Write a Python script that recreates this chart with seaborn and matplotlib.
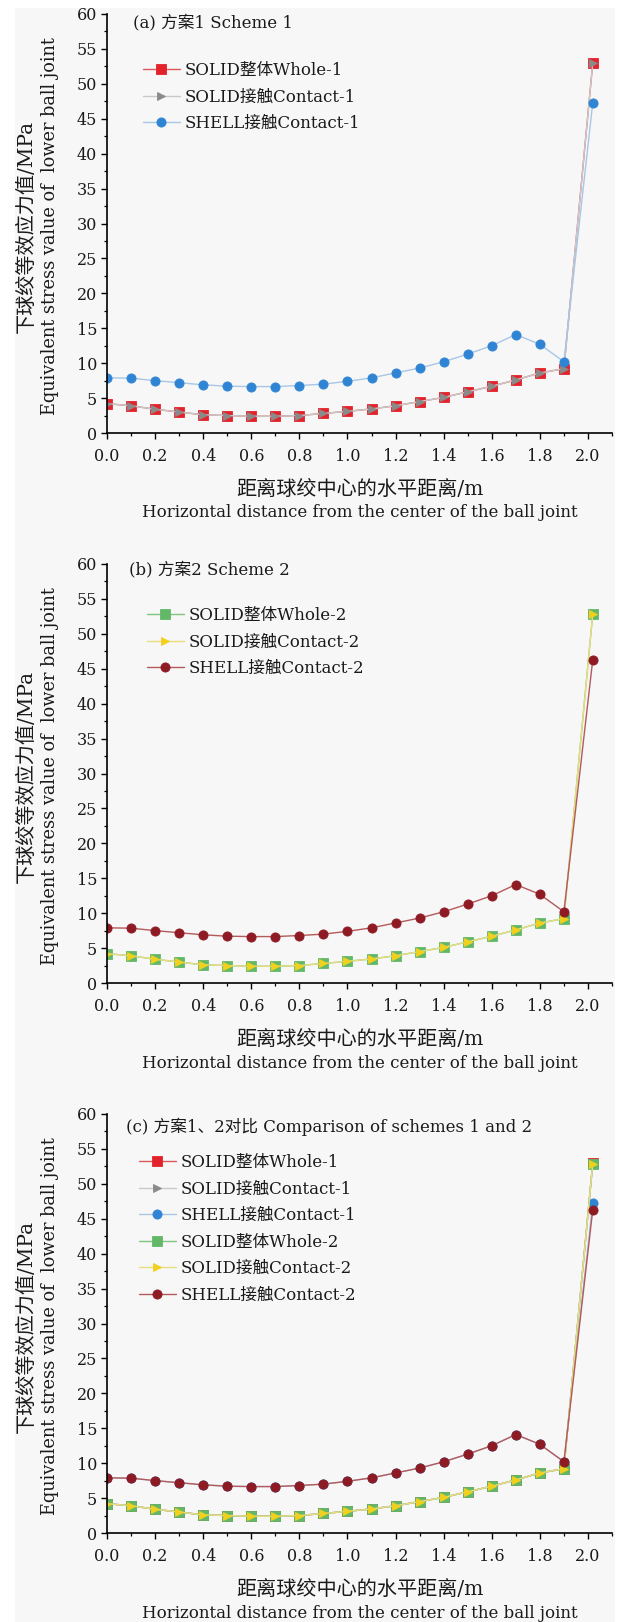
import numpy as np
import pandas as pd
import matplotlib
matplotlib.use("Agg")
import matplotlib.pyplot as plt
from matplotlib.patches import Rectangle
from matplotlib.ticker import MultipleLocator, FormatStrFormatter
import seaborn as sns

# ---------------- data ----------------
distance = [0.0, 0.1, 0.2, 0.3, 0.4, 0.5, 0.6, 0.7, 0.8, 0.9, 1.0,
            1.1, 1.2, 1.3, 1.4, 1.5, 1.6, 1.7, 1.8, 1.9, 2.02]
solid_whole_1 = [4.2, 3.9, 3.4, 3.0, 2.6, 2.5, 2.4, 2.4, 2.5, 2.8, 3.1,
                 3.45, 3.9, 4.5, 5.1, 5.9, 6.7, 7.6, 8.6, 9.2, 53.0]
solid_contact_1 = [4.2, 3.9, 3.4, 3.0, 2.6, 2.5, 2.4, 2.4, 2.5, 2.8, 3.1,
                   3.45, 3.9, 4.5, 5.1, 5.9, 6.7, 7.6, 8.6, 9.2, 53.0]
shell_contact_1 = [7.9, 7.85, 7.5, 7.2, 6.9, 6.7, 6.65, 6.65, 6.8, 7.0, 7.4,
                   7.9, 8.6, 9.3, 10.2, 11.3, 12.5, 14.1, 12.7, 10.2, 47.3]
solid_whole_2 = [4.2, 3.9, 3.4, 3.0, 2.6, 2.5, 2.4, 2.4, 2.5, 2.8, 3.1,
                 3.45, 3.9, 4.5, 5.1, 5.9, 6.7, 7.6, 8.6, 9.2, 52.9]
solid_contact_2 = [4.2, 3.9, 3.4, 3.0, 2.6, 2.5, 2.4, 2.4, 2.5, 2.8, 3.1,
                   3.45, 3.9, 4.5, 5.1, 5.9, 6.7, 7.6, 8.6, 9.2, 52.9]
shell_contact_2 = [7.9, 7.85, 7.5, 7.2, 6.9, 6.7, 6.65, 6.65, 6.8, 7.0, 7.4,
                   7.9, 8.6, 9.3, 10.2, 11.3, 12.5, 14.1, 12.7, 10.2, 46.3]

labels = ["SOLID整体Whole-1", "SOLID接触Contact-1", "SHELL接触Contact-1",
          "SOLID整体Whole-2", "SOLID接触Contact-2", "SHELL接触Contact-2"]
panel_titles = ["(a) 方案1 Scheme 1", "(b) 方案2 Scheme 2",
                "(c) 方案1、2对比 Comparison of schemes 1 and 2"]
xlabel_zh = "距离球绞中心的水平距离/m"
xlabel_en = "Horizontal distance from the center of the ball joint"
ylabel_zh = "下球绞等效应力值/MPa"
ylabel_en = "Equivalent stress value of  lower ball joint"

series = {
    labels[0]: solid_whole_1, labels[1]: solid_contact_1, labels[2]: shell_contact_1,
    labels[3]: solid_whole_2, labels[4]: solid_contact_2, labels[5]: shell_contact_2,
}

# ---------------- styles ----------------
styles = {
    labels[0]: dict(marker="s", line="#e0585a", face="#e3232b", edge="#e3232b", ms=7.0),
    labels[1]: dict(marker=">", line="#c9c9c9", face="#8a8a8a", edge="#8a8a8a", ms=6.2),
    labels[2]: dict(marker="o", line="#a8c6e6", face="#2f84d3", edge="#2f84d3", ms=6.6),
    labels[3]: dict(marker="s", line="#7fc47f", face="#62b868", edge="#62b868", ms=7.0),
    labels[4]: dict(marker=">", line="#e8de80", face="#f2d01e", edge="#f2d01e", ms=6.2),
    labels[5]: dict(marker="o", line="#b45a5a", face="#8e1b24", edge="#8e1b24", ms=6.6),
}

sns.set_theme(style="ticks")
plt.rcParams["font.family"] = ["DejaVu Serif", "Noto Sans CJK SC"]
plt.rcParams["axes.unicode_minus"] = False

W, H = 622, 1622
fig = plt.figure(figsize=(W / 100, H / 100), dpi=100, facecolor="white")
fig.patches.append(Rectangle((15 / W, 0), 600 / W, (H - 8) / H, transform=fig.transFigure,
                             facecolor="#f7f7f7", edgecolor="none", zorder=-10))

def fx(px):
    return px / W

def fy(py):
    return 1 - py / H

ax_left, ax_right = 107, 612
panels = [
    dict(top=14, bottom=433, series=labels[0:3], title_y=23, title_x=133,
         leg_x=143, leg_y=68),
    dict(top=564, bottom=983, series=labels[3:6], title_y=570, title_x=129,
         leg_x=147, leg_y=613),
    dict(top=1114, bottom=1533, series=labels, title_y=1127, title_x=126,
         leg_x=139, leg_y=1160),
]

FS = 12
TXT = "#1a1a1a"
for i, p in enumerate(panels):
    ax = fig.add_axes([fx(ax_left), fy(p["bottom"]), fx(ax_right - ax_left),
                       (p["bottom"] - p["top"]) / H])
    ax.set_facecolor("none")
    for name in p["series"]:
        st = styles[name]
        sns.lineplot(x=distance, y=series[name], ax=ax, color=st["line"], linewidth=1.0,
                     marker=st["marker"], markersize=st["ms"],
                     markerfacecolor=st["face"], markeredgecolor=st["edge"],
                     markeredgewidth=0.6, label=name, sort=False, estimator=None)
    ax.set_xlim(0, 2.1)
    ax.set_ylim(0, 60)
    ax.xaxis.set_major_locator(MultipleLocator(0.2))
    ax.xaxis.set_minor_locator(MultipleLocator(0.1))
    ax.xaxis.set_major_formatter(FormatStrFormatter("%.1f"))
    ax.yaxis.set_major_locator(MultipleLocator(5))
    ax.yaxis.set_minor_locator(MultipleLocator(2.5))
    ax.tick_params(axis="both", which="major", direction="out", length=4, width=1.0,
                   color="black", labelsize=11.5, labelcolor=TXT)
    ax.tick_params(axis="both", which="minor", direction="out", length=2.5, width=0.9,
                   color="black")
    ax.tick_params(axis="y", which="major", pad=3.0)
    ax.tick_params(axis="x", which="major", pad=7)
    sns.despine(ax=ax)
    for s in ["left", "bottom"]:
        ax.spines[s].set_linewidth(1.2)
        ax.spines[s].set_color("black")
    ax.set_xlabel("")
    ax.set_ylabel("")

    # panel title
    fig.text(fx(p["title_x"]), fy(p["title_y"]), panel_titles[i],
             fontsize=FS, ha="left", va="center", color=TXT)

    # legend
    leg = ax.legend(loc="upper left", bbox_to_anchor=(fx(p["leg_x"]), fy(p["leg_y"] - 6)),
                    bbox_transform=fig.transFigure, frameon=False, fontsize=FS,
                    handlelength=2.2, handletextpad=0.3, labelspacing=0.57,
                    borderpad=0, borderaxespad=0)
    for t in leg.get_texts():
        t.set_color(TXT)

    # axis labels
    xc = (ax_left + ax_right) / 2
    fig.text(fx(xc), fy(p["bottom"] + 56), xlabel_zh, fontsize=14.5, ha="center",
             va="center", color=TXT)
    fig.text(fx(xc), fy(p["bottom"] + 80), xlabel_en, fontsize=FS, ha="center",
             va="center", color=TXT)
    yc = (p["top"] + p["bottom"]) / 2 + 3
    fig.text(fx(26), fy(yc), ylabel_zh, fontsize=14.5, rotation=90, ha="center",
             va="center", color=TXT)
    fig.text(fx(50), fy(yc), ylabel_en, fontsize=12.8, rotation=90, ha="center",
             va="center", color=TXT)

fig.savefig("out.png", dpi=100, facecolor="white")
